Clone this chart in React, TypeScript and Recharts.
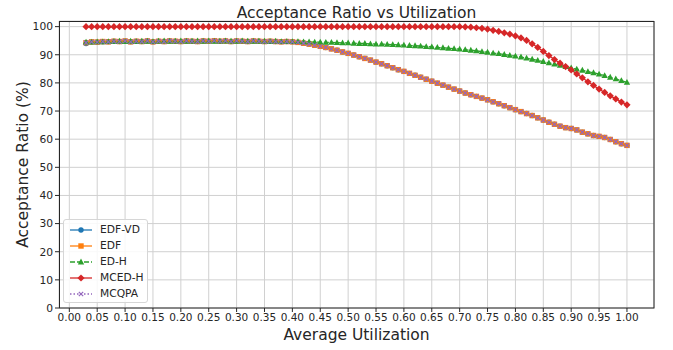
import { LineChart, Line, XAxis, YAxis, CartesianGrid } from 'recharts';

// utilization values on the x axis (one run every 0.01)
const utilization = [
  0.03, 0.04, 0.05, 0.06, 0.07, 0.08, 0.09, 0.10, 0.11, 0.12, 0.13, 0.14, 0.15, 0.16, 0.17, 0.18,
  0.19, 0.20, 0.21, 0.22, 0.23, 0.24, 0.25, 0.26, 0.27, 0.28, 0.29, 0.30, 0.31, 0.32, 0.33, 0.34,
  0.35, 0.36, 0.37, 0.38, 0.39, 0.40, 0.41, 0.42, 0.43, 0.44, 0.45, 0.46, 0.47, 0.48, 0.49, 0.50,
  0.51, 0.52, 0.53, 0.54, 0.55, 0.56, 0.57, 0.58, 0.59, 0.60, 0.61, 0.62, 0.63, 0.64, 0.65, 0.66,
  0.67, 0.68, 0.69, 0.70, 0.71, 0.72, 0.73, 0.74, 0.75, 0.76, 0.77, 0.78, 0.79, 0.80, 0.81, 0.82,
  0.83, 0.84, 0.85, 0.86, 0.87, 0.88, 0.89, 0.90, 0.91, 0.92, 0.93, 0.94, 0.95, 0.96, 0.97, 0.98,
  0.99, 1.00,
];

// EDF, EDF-VD and MCQPA sit on top of each other in the picture
const edf = [
  94.3, 94.6, 94.5, 94.7, 94.6, 94.8, 94.7, 94.9, 94.6, 94.8, 94.7, 94.9, 94.6, 94.8, 94.7, 94.9,
  94.8, 94.7, 94.9, 94.8, 94.7, 94.9, 94.8, 95.0, 94.8, 94.9, 94.7, 94.9, 94.8, 94.7, 94.9, 94.8,
  94.7, 94.8, 94.7, 94.6, 94.7, 94.6, 94.4, 94.1, 93.8, 93.4, 93.0, 92.6, 92.1, 91.6, 91.0, 90.5,
  89.9, 89.3, 88.7, 88.1, 87.4, 86.8, 86.1, 85.4, 84.7, 84.1, 83.4, 82.7, 82.0, 81.3, 80.6, 79.9,
  79.2, 78.5, 77.8, 77.1, 76.4, 75.8, 75.2, 74.6, 74.0, 73.3, 72.6, 71.9, 71.2, 70.5, 69.8, 69.1,
  68.4, 67.6, 66.8, 66.0, 65.3, 64.6, 64.1, 63.8, 63.3, 62.5, 61.9, 61.3, 61.0, 60.6, 59.9, 59.1,
  58.4, 57.8,
];
const edfVd = [
  94.0, 94.5, 94.5, 94.6, 94.6, 94.8, 94.7, 94.8, 94.6, 94.8, 94.7, 94.9, 94.6, 94.8, 94.7, 94.9,
  94.8, 94.7, 94.9, 94.8, 94.7, 94.9, 94.8, 95.0, 94.8, 94.9, 94.7, 94.9, 94.8, 94.7, 94.9, 94.8,
  94.7, 94.8, 94.7, 94.6, 94.7, 94.6, 94.4, 94.1, 93.8, 93.4, 93.0, 92.6, 92.1, 91.6, 91.0, 90.5,
  89.9, 89.3, 88.7, 88.1, 87.4, 86.8, 86.1, 85.4, 84.7, 84.1, 83.4, 82.7, 82.0, 81.3, 80.6, 79.9,
  79.2, 78.5, 77.8, 77.1, 76.4, 75.8, 75.2, 74.6, 74.0, 73.3, 72.6, 71.9, 71.2, 70.5, 69.8, 69.1,
  68.4, 67.6, 66.8, 66.0, 65.3, 64.6, 64.1, 63.8, 63.3, 62.5, 61.9, 61.3, 61.0, 60.6, 59.9, 59.1,
  58.4, 57.8,
];
const mcqpa = edf;

const edh = [
  94.5, 94.5, 94.6, 94.6, 94.7, 94.7, 94.8, 94.7, 94.8, 94.7, 94.8, 94.8, 94.7, 94.8, 94.9, 94.8,
  94.8, 94.9, 94.8, 94.8, 94.9, 94.8, 94.9, 94.8, 94.8, 94.9, 94.8, 94.8, 94.9, 94.8, 94.8, 94.8,
  94.8, 94.7, 94.8, 94.7, 94.7, 94.7, 94.7, 94.6, 94.6, 94.5, 94.5, 94.4, 94.4, 94.3, 94.2, 94.2,
  94.1, 94.0, 94.0, 93.9, 93.8, 93.8, 93.7, 93.6, 93.5, 93.4, 93.3, 93.2, 93.1, 92.9, 92.8, 92.6,
  92.5, 92.3, 92.2, 92.0, 91.8, 91.6, 91.4, 91.1, 90.9, 90.6, 90.4, 90.1, 89.8, 89.5, 89.2, 88.8,
  88.4, 88.0, 87.6, 87.1, 86.7, 86.2, 85.8, 85.3, 84.9, 84.5, 84.0, 83.6, 83.1, 82.6, 82.0, 81.4,
  80.8, 80.2,
];

const mcedh = [
  100, 100, 100, 100, 100, 100, 100, 100, 100, 100, 100, 100, 100, 100, 100, 100,
  100, 100, 100, 100, 100, 100, 100, 100, 100, 100, 100, 100, 100, 100, 100, 100,
  100, 100, 100, 100, 100, 100, 100, 100, 100, 100, 100, 100, 100, 100, 100, 100,
  100, 100, 100, 100, 100, 100, 100, 100, 100, 100, 100, 100, 100, 100, 100, 100,
  100, 100, 100, 100, 99.9, 99.8, 99.6, 99.4, 99.1, 98.7, 98.3, 97.8, 97.3, 96.7, 96.0, 95.1,
  93.9, 92.6, 91.2, 89.7, 88.3, 87.0, 85.8, 84.6, 83.2, 81.8, 80.4, 79.1, 77.8, 76.6, 75.4, 74.3,
  73.2, 72.2,
];

const xTicks = [0, 0.05, 0.1, 0.15, 0.2, 0.25, 0.3, 0.35, 0.4, 0.45, 0.5, 0.55, 0.6, 0.65, 0.7, 0.75, 0.8, 0.85, 0.9, 0.95, 1.0];
const yTicks = [0, 10, 20, 30, 40, 50, 60, 70, 80, 90, 100];

const rows = utilization.map((u, i) => ({
  u, edfVd: edfVd[i], edf: edf[i], edh: edh[i], mcedh: mcedh[i], mcqpa: mcqpa[i],
}));

const FONT = '"DejaVu Sans", sans-serif';
const INK = '#262626';

type Shape = 'circle' | 'square' | 'triangle' | 'diamond' | 'x';

function Marker({ shape, cx, cy, color }: { shape: Shape; cx: number; cy: number; color: string }) {
  if (shape === 'circle') return <circle cx={cx} cy={cy} r={2.7} fill={color} />;
  if (shape === 'square') return <rect x={cx - 2.7} y={cy - 2.7} width={5.4} height={5.4} fill={color} />;
  if (shape === 'triangle')
    return <path d={`M${cx},${cy - 3.4}L${cx + 3.2},${cy + 2.4}L${cx - 3.2},${cy + 2.4}Z`} fill={color} />;
  if (shape === 'diamond')
    return <path d={`M${cx},${cy - 3.6}L${cx + 3.6},${cy}L${cx},${cy + 3.6}L${cx - 3.6},${cy}Z`} fill={color} />;
  return (
    <path d={`M${cx - 2.2},${cy - 2.2}L${cx + 2.2},${cy + 2.2}M${cx - 2.2},${cy + 2.2}L${cx + 2.2},${cy - 2.2}`}
      stroke={color} strokeWidth={1.2} fill="none" />
  );
}

const dotFor = (shape: Shape, color: string) => (p: any) => (
  <g key={`${shape}-${p.index}`}>
    {p.cx != null && p.cy != null ? <Marker shape={shape} cx={p.cx} cy={p.cy} color={color} /> : null}
  </g>
);

const SERIES = [
  { key: 'edfVd', name: 'EDF-VD', color: '#1f77b4', shape: 'circle' as Shape, dash: undefined },
  { key: 'edf', name: 'EDF', color: '#ff7f0e', shape: 'square' as Shape, dash: undefined },
  { key: 'edh', name: 'ED-H', color: '#2ca02c', shape: 'triangle' as Shape, dash: '5 2' },
  { key: 'mcedh', name: 'MCED-H', color: '#d62728', shape: 'diamond' as Shape, dash: undefined },
  { key: 'mcqpa', name: 'MCQPA', color: '#9467bd', shape: 'x' as Shape, dash: '1.5 2' },
];

export default function App() {
  return (
    <div style={{ position: 'absolute', left: 0, top: 0, width: 673, height: 350, background: '#fff', fontFamily: FONT }}>
      <LineChart width={673} height={350} data={rows} margin={{ top: 21, right: 19, bottom: 12, left: 19 }}>
        <CartesianGrid stroke="#d0d0d0" strokeWidth={1} />
        <XAxis dataKey="u" type="number" domain={[-0.0185, 1.0485]} ticks={xTicks} interval={0}
          allowDataOverflow height={30} axisLine={false} tickSize={4} tickMargin={2}
          tickLine={{ stroke: INK }} tick={{ fontSize: 10.5, fill: INK, fontFamily: FONT }}
          tickFormatter={(v: number) => v.toFixed(2)} />
        <YAxis type="number" domain={[0, 102]} ticks={yTicks} interval={0} allowDataOverflow width={40}
          axisLine={false} tickSize={4} tickMargin={2} tickLine={{ stroke: INK }}
          tick={{ fontSize: 10.7, fill: INK, fontFamily: FONT }} />
        {SERIES.map(s => (
          <Line key={s.key} type="linear" dataKey={s.key} name={s.name} stroke={s.color} strokeWidth={1.3}
            strokeDasharray={s.dash} dot={dotFor(s.shape, s.color)} activeDot={false} isAnimationActive={false} />
        ))}
      </LineChart>

      {/* frame, title and axis labels */}
      <svg width={673} height={350} style={{ position: 'absolute', left: 0, top: 0, pointerEvents: 'none' }}>
        <rect x={59.5} y={21.5} width={594.5} height={286.5} fill="none" stroke={INK} strokeWidth={1} />
        <text x={356.5} y={17.5} textAnchor="middle" fontSize={15.5} fill={INK} fontFamily={FONT}>
          Acceptance Ratio vs Utilization
        </text>
        <text x={356.5} y={339.5} textAnchor="middle" fontSize={15.5} fill={INK} fontFamily={FONT}>
          Average Utilization
        </text>
        <text transform="translate(27.5,164.5) rotate(-90)" textAnchor="middle" fontSize={15.5} fill={INK} fontFamily={FONT}>
          Acceptance Ratio (%)
        </text>
      </svg>

      {/* legend */}
      <div style={{
        position: 'absolute', left: 63, top: 219, width: 85, height: 84, boxSizing: 'border-box',
        border: '1px solid #d6d6d6', borderRadius: 3, background: 'rgba(255,255,255,0.85)',
      }}>
        {SERIES.map((s, i) => (
          <div key={s.key} style={{ position: 'absolute', left: 0, top: 2 + i * 16, height: 16, width: 84 }}>
            <svg width={30} height={16} style={{ position: 'absolute', left: 4, top: 0 }}>
              <line x1={2} y1={8} x2={24} y2={8} stroke={s.color} strokeWidth={1.3} strokeDasharray={s.dash} />
              <Marker shape={s.shape} cx={13} cy={8} color={s.color} />
            </svg>
            <span style={{ position: 'absolute', left: 36, top: 0, lineHeight: '16px', fontSize: 10.7, color: INK }}>
              {s.name}
            </span>
          </div>
        ))}
      </div>
    </div>
  );
}
